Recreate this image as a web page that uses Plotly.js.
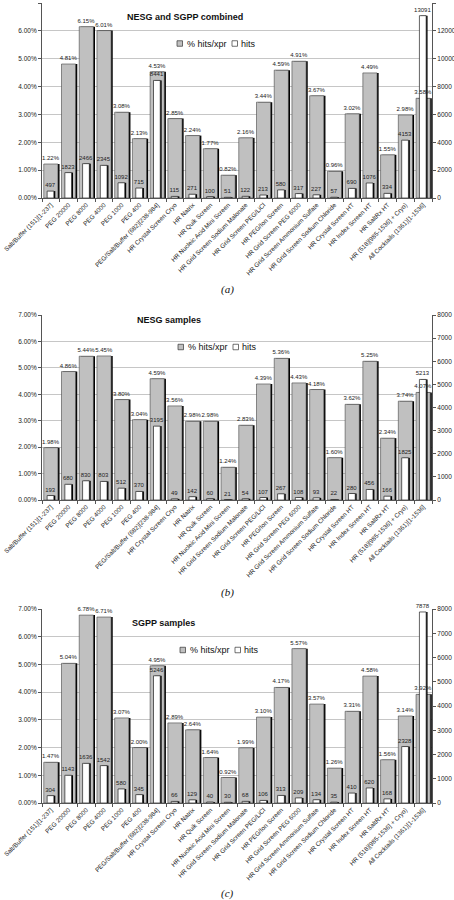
<!DOCTYPE html>
<html>
<head>
<meta charset="utf-8">
<script src="https://cdn.plot.ly/plotly-3.0.1.min.js"></script>
<style>html,body{margin:0;padding:0;background:#fff}#chart{width:454px;height:900px}</style>
</head>
<body>
<div id="chart"></div>
<script>
const categories = [
  "Salt/Buffer (151)[1-237]", "PEG 20000", "PEG 8000", "PEG 4000", "PEG 1000", "PEG 400",
  "PEG/Salt/Buffer (682)[238-984]", "HR Crystal Screen Cryo", "HR Natrix", "HR Quik Screen",
  "HR Nucleic Acid Mini Screen", "HR Grid Screen Sodium Malonate", "HR Grid Screen PEG/LiCl",
  "HR PEG/Ion Screen", "HR Grid Screen PEG 6000", "HR Grid Screen Ammonium Sulfate",
  "HR Grid Screen Sodium Chloride", "HR Crystal Screen HT", "HR Index Screen HT", "HR SaltRx HT",
  "HR (518)[985-1536] + Cryo)", "All Cocktails (1361)[1-1536]"
];
const pctCombined = [1.22, 4.81, 6.15, 6.01, 3.08, 2.13, 4.53, 2.85, 2.24, 1.77, 0.82, 2.16, 3.44, 4.59, 4.91, 3.67, 0.96, 3.02, 4.49, 1.55, 2.98, 3.58];
const hitsCombined = [497, 1823, 2466, 2345, 1092, 715, 8441, 115, 271, 100, 51, 122, 213, 580, 317, 227, 57, 690, 1076, 334, 4153, 13091];
const pctNESG = [1.98, 4.86, 5.44, 5.45, 3.80, 3.04, 4.59, 3.56, 2.98, 2.98, 1.24, 2.83, 4.39, 5.36, 4.43, 4.18, 1.60, 3.62, 5.25, 2.34, 3.74, 4.07];
const hitsNESG = [193, 680, 830, 803, 512, 370, 3195, 49, 142, 60, 21, 54, 107, 267, 108, 93, 22, 280, 456, 166, 1825, 5213];
const pctSGPP = [1.47, 5.04, 6.78, 6.71, 3.07, 2.00, 4.95, 2.89, 2.64, 1.64, 0.92, 1.99, 3.10, 4.17, 5.57, 3.57, 1.26, 3.31, 4.58, 1.56, 3.14, 3.92];
const hitsSGPP = [304, 1143, 1636, 1542, 580, 345, 5246, 66, 129, 40, 30, 68, 106, 313, 209, 134, 35, 410, 620, 168, 2328, 7878];
const panelTitles = ["NESG and SGPP combined", "NESG samples", "SGPP samples"];
const captions = ["(a)", "(b)", "(c)"];
const seriesNames = ["% hits/xpr", "hits"];

const W = 454, H = 900;
const panels = [
  {pct: pctCombined, hits: hitsCombined, hitsMax: 14000, hitsStep: 2000, top: 3, bottom: 198, titleX: 185, titleY: 17, legY: 43.5, legX: 177, capY: 290},
  {pct: pctNESG, hits: hitsNESG, hitsMax: 8000, hitsStep: 1000, top: 315, bottom: 500, titleX: 169, titleY: 320, legY: 347, legX: 178, capY: 592},
  {pct: pctSGPP, hits: hitsSGPP, hitsMax: 8000, hitsStep: 1000, top: 609, bottom: 803, titleX: 163, titleY: 623, legY: 650, legX: 180, capY: 893}
];
const xL = 42, xR = 432;
const font = "Liberation Sans, Arial, sans-serif";
const px = v => v / W, py = v => 1 - v / H;

const traces = [];
const layout = {
  width: W, height: H, margin: {l: 0, r: 0, t: 0, b: 0},
  paper_bgcolor: "#fff", plot_bgcolor: "#fff",
  showlegend: false, font: {family: font, size: 7, color: "#222"},
  annotations: [], shapes: []
};

panels.forEach((p, i) => {
  const xa = i === 0 ? "x" : "x" + (i + 1);
  const yl = "y" + (i === 0 ? "" : (2 * i + 1));
  const yr = "y" + (2 * i + 2);
  const yt = "y" + (7 + i);
  const xKey = i === 0 ? "xaxis" : "xaxis" + (i + 1);
  const ylKey = i === 0 ? "yaxis" : "yaxis" + (2 * i + 1);
  const yrKey = "yaxis" + (2 * i + 2);
  const ytKey = "yaxis" + (7 + i);
  const frac = p.pct.map(v => v / 100);

  // grey bar shadow
  traces.push({type: "bar", x: categories, y: frac, xaxis: xa, yaxis: yl, width: 0.8, offset: -0.31,
    marker: {color: "#000", line: {width: 0}}, hoverinfo: "skip", showlegend: false});
  // grey bars
  traces.push({type: "bar", name: seriesNames[0], x: categories, y: frac, xaxis: xa, yaxis: yl, width: 0.8, offset: -0.4,
    marker: {color: "#c0c0c0", line: {color: "#444", width: 0.6}}, showlegend: false});
  // white bar shadow
  traces.push({type: "bar", x: categories, y: p.hits, xaxis: xa, yaxis: yr, width: 0.38, offset: -0.13,
    marker: {color: "#000", line: {width: 0}}, hoverinfo: "skip", showlegend: false});
  // white bars
  traces.push({type: "bar", name: seriesNames[1], x: categories, y: p.hits, xaxis: xa, yaxis: yr, width: 0.38, offset: -0.21,
    marker: {color: "#fff", line: {color: "#222", width: 0.7}},
    texttemplate: "%{y:d}", textposition: "outside", constraintext: "none", cliponaxis: false,
    textfont: {size: 6, color: "#222", family: font}, showlegend: false});
  // percentage labels drawn on top of everything
  traces.push({type: "bar", x: categories, y: frac, xaxis: xa, yaxis: yt, width: 0.8, offset: -0.4,
    marker: {color: "rgba(0,0,0,0)", line: {width: 0}},
    texttemplate: "%{y:.2%}", textposition: "outside", constraintext: "none", cliponaxis: false,
    textfont: {size: 6, color: "#222", family: font}, hoverinfo: "skip", showlegend: false});

  layout[xKey] = {
    type: "category", domain: [px(xL), px(xR)], anchor: yl, range: [-0.5, categories.length - 0.5],
    tickangle: -45, ticks: "outside", tickson: "boundaries", ticklen: 3, tickcolor: "#555",
    showline: true, linecolor: "#555", linewidth: 1, showgrid: false, automargin: false,
    tickfont: {size: 6.3, color: "#222", family: font}
  };
  layout[ylKey] = {
    domain: [py(p.bottom), py(p.top)], anchor: xa, range: [0, 0.07], dtick: 0.01, tickformat: ".2%",
    showgrid: true, gridcolor: "#b8b8b8", gridwidth: 0.8, zeroline: false,
    showline: true, linecolor: "#555", ticks: "outside", ticklen: 3, tickcolor: "#555", automargin: false,
    tickfont: {size: 6.5, color: "#222", family: font}
  };
  layout[yrKey] = {
    overlaying: yl, side: "right", anchor: xa, range: [0, p.hitsMax], dtick: p.hitsStep, tickformat: "d",
    showgrid: false, zeroline: false, showline: true, linecolor: "#555", ticks: "outside", ticklen: 3,
    tickcolor: "#555", automargin: false, tickfont: {size: 6.5, color: "#222", family: font}
  };
  layout[ytKey] = {
    overlaying: yl, anchor: xa, range: [0, 0.07], visible: false, showgrid: false, zeroline: false
  };

  // title
  layout.annotations.push({xref: "paper", yref: "paper", x: px(p.titleX), y: py(p.titleY), text: "<b>" + panelTitles[i] + "</b>",
    showarrow: false, xanchor: "center", yanchor: "middle", font: {size: 9, color: "#111", family: font}});
  // legend
  const s = 5.5;
  layout.shapes.push({type: "rect", xref: "paper", yref: "paper", x0: px(p.legX), x1: px(p.legX + s),
    y0: py(p.legY + s / 2), y1: py(p.legY - s / 2), fillcolor: "#c0c0c0", line: {color: "#333", width: 0.7}});
  layout.annotations.push({xref: "paper", yref: "paper", x: px(p.legX + 8), y: py(p.legY), text: seriesNames[0],
    showarrow: false, xanchor: "left", yanchor: "middle", font: {size: 9, color: "#111", family: font}});
  layout.shapes.push({type: "rect", xref: "paper", yref: "paper", x0: px(p.legX + 55), x1: px(p.legX + 55 + s),
    y0: py(p.legY + s / 2), y1: py(p.legY - s / 2), fillcolor: "#fff", line: {color: "#333", width: 0.7}});
  layout.annotations.push({xref: "paper", yref: "paper", x: px(p.legX + 62), y: py(p.legY), text: seriesNames[1],
    showarrow: false, xanchor: "left", yanchor: "middle", font: {size: 9, color: "#111", family: font}});
  // caption
  layout.annotations.push({xref: "paper", yref: "paper", x: px(227), y: py(p.capY), text: "<i>" + captions[i] + "</i>",
    showarrow: false, xanchor: "center", yanchor: "middle", font: {size: 11, color: "#111", family: "Liberation Serif, Times New Roman, serif"}});
});

Plotly.newPlot("chart", traces, layout, {displayModeBar: false, staticPlot: true});
</script>
</body>
</html>
